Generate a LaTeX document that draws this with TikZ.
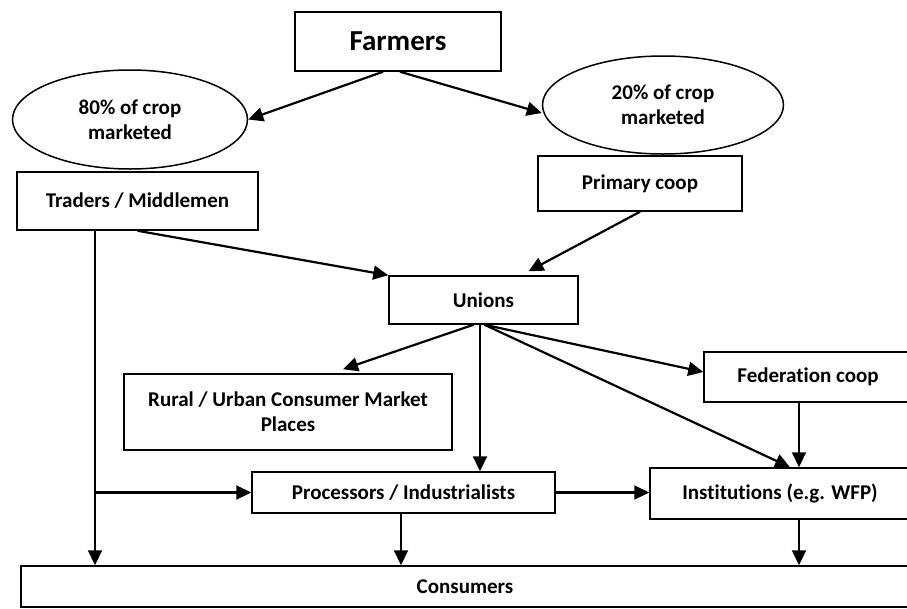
\documentclass[tikz,border=0pt]{standalone}
\usepackage{fontspec}
\setmainfont{Carlito}[Ligatures=NoCommon]
\usepackage{tikz}
\usetikzlibrary{arrows.meta, shapes.geometric}

\begin{document}
\begin{tikzpicture}[x=1pt, y=-1pt, >={Triangle[length=15pt,width=14pt]},
  every node/.style={font=\bfseries\fontsize{21}{25}\selectfont, align=center},
  box/.style={draw, line width=1.5pt, inner sep=0pt},
  oval/.style={draw, ellipse, line width=1.5pt, inner sep=0pt},
  link/.style={->, line width=2.2pt}]

  \clip (0,0) rectangle (907,608);

  \node[box, minimum width=206pt, minimum height=59pt, font=\bfseries\fontsize{29}{32}\selectfont] (farmers) at (398,41.5) {Farmers};
  \node[oval, minimum width=235pt, minimum height=99pt] (crop80) at (130,119.5) {80\% of crop\\marketed};
  \node[oval, minimum width=241pt, minimum height=98pt] (crop20) at (663,105) {20\% of crop\\marketed};

  \node[box, minimum width=241pt, minimum height=58pt] (traders) at (137.5,201) {Traders / Middlemen};
  \node[box, minimum width=204pt, minimum height=55pt] (primary) at (640,183.5) {Primary coop};
  \node[box, minimum width=189pt, minimum height=48pt] (unions) at (483.5,300) {Unions};

  \node[box, minimum width=328pt, minimum height=76pt] (rural) at (288,412) {Rural / Urban Consumer Market\\Places};
  \node[box, minimum width=208pt, minimum height=50pt] (federation) at (808,377) {Federation coop};
  \node[box, minimum width=303pt, minimum height=41pt] (processors) at (403.5,492.5) {Processors / Industrialists};
  \node[box, minimum width=260pt, minimum height=51pt] (institutions) at (780,493.5) {Institutions (e.g. WFP)};
  \node[box, minimum width=888pt, minimum height=41pt] (consumers) at (465,586.5) {Consumers};

  % farmers split
  \draw[link] ([xshift=-15pt]farmers.south) -- (crop80.east);
  \draw[link] ([xshift=2pt]farmers.south) -- ([yshift=-8pt]crop20.west);

  % into unions
  \draw[link] (traders.south) -- (unions.north west);
  \draw[link] (primary.south) -- ([xshift=45pt, yshift=4pt]unions.north);

  % traders straight down
  \coordinate (tr) at ([xshift=-42.5pt]traders.south);
  \draw[link] (tr) -- (tr |- consumers.north);
  \draw[link] (tr |- processors.west) -- (processors.west);

  % out of unions
  \coordinate (ub) at ([xshift=-3.5pt]unions.south);
  \draw[link] ([xshift=-10pt]unions.south) -- ([xshift=55pt, yshift=4pt]rural.north);
  \draw[link] (ub) -- (ub |- processors.north);
  \draw[link] ([xshift=1pt]unions.south) -- ([yshift=5pt]federation.west);
  \draw[link] ([xshift=1pt]unions.south) -- ([xshift=10pt]institutions.north);

  \coordinate (fd) at ([xshift=-9pt]federation.south);
  \draw[link] (fd) -- (fd |- institutions.north);
  \draw[link] (processors.east) -- (processors.east -| institutions.west);

  % down to consumers
  \coordinate (pr) at ([xshift=-2.5pt]processors.south);
  \draw[link] (pr) -- (pr |- consumers.north);
  \coordinate (in) at ([xshift=19pt]institutions.south);
  \draw[link] (in) -- (in |- consumers.north);

\end{tikzpicture}
\end{document}
